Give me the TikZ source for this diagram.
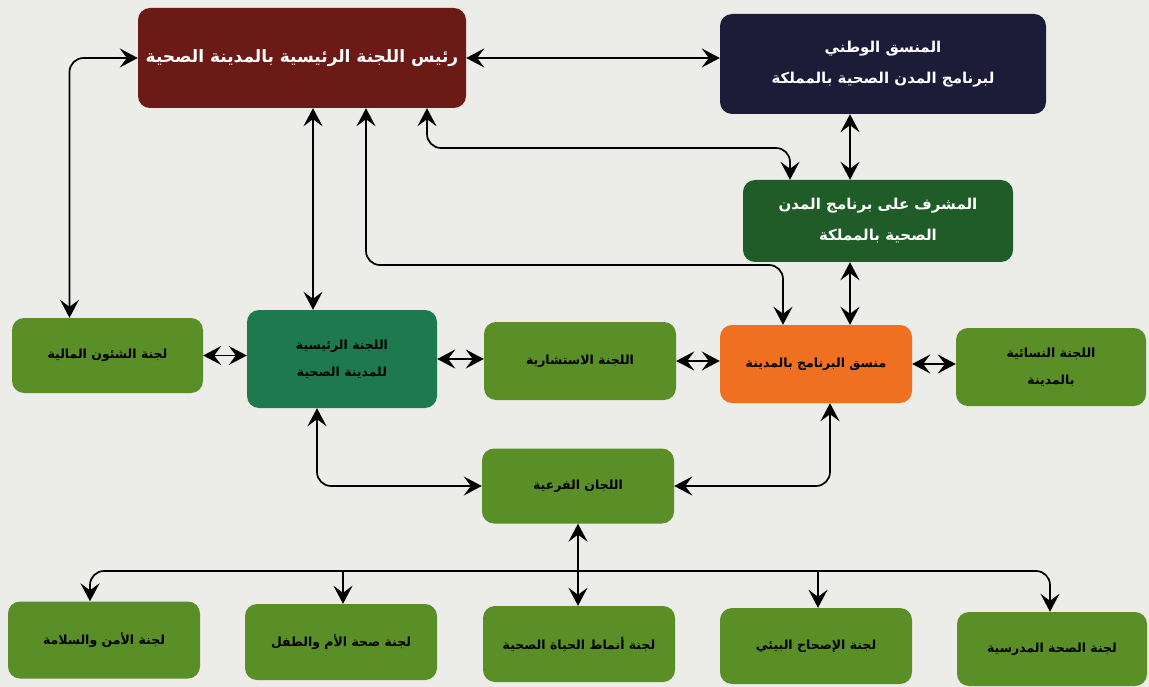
\documentclass[tikz,border=0pt]{standalone}
\usepackage{fontspec}
\newfontfamily\arabicfont[Script=Arabic]{DejaVu Sans}
\TeXXeTstate=1
\usetikzlibrary{arrows.meta,calc}
\definecolor{bgc}{HTML}{ECECE9}
\definecolor{chairc}{HTML}{6C1A15}
\definecolor{navyc}{HTML}{1C1C38}
\definecolor{supc}{HTML}{1F5C27}
\definecolor{grc}{HTML}{5A8E27}
\definecolor{tealc}{HTML}{1E7A4E}
\definecolor{orc}{HTML}{F07021}
\tikzset{
  box/.style={rounded corners=12pt, draw=none, align=center, inner sep=2pt,
    font=\arabicfont\bfseries},
  topbox/.style={box, text=white, font=\arabicfont\bfseries\fontsize{15}{31}\selectfont},
  grbox/.style={box, fill=grc, text=black, font=\arabicfont\bfseries\fontsize{12.5}{27}\selectfont,
    minimum width=192pt, minimum height=77pt},
  link/.style={line width=1.7pt, >={Stealth[length=18pt,width=19pt,inset=7pt]}, <->},
  link1/.style={line width=1.7pt, >={Stealth[length=18pt,width=19pt,inset=7pt]}, ->},
  roundpath/.style={rounded corners=14pt}
}
\begin{document}
\begin{tikzpicture}[x=1pt,y=-1pt]
\fill[bgc] (0,0) rectangle (1149,687);
\useasboundingbox (0,0) rectangle (1149,687);

\node[topbox, fill=chairc, minimum width=328pt, minimum height=100pt,
  font=\arabicfont\bfseries\fontsize{17}{24}\selectfont] (chair) at (302,58)
  {\beginR رئيس اللجنة الرئيسية بالمدينة الصحية\endR};
\node[topbox, fill=navyc, minimum width=326pt, minimum height=100pt] (national) at (883,64)
  {\beginR المنسق الوطني\endR\\\beginR لبرنامج المدن الصحية بالمملكة\endR};
\node[topbox, fill=supc, minimum width=270pt, minimum height=82pt] (sup) at (878,221)
  {\beginR المشرف على برنامج المدن\endR\\\beginR الصحية بالمملكة\endR};

\node[grbox, minimum width=191pt, minimum height=75pt] (fin) at (107.5,355.5)
  {\beginR لجنة الشئون المالية\endR};
\node[grbox, fill=tealc, minimum width=190pt, minimum height=98pt] (main) at (342,359)
  {\beginR اللجنة الرئيسية\endR\\\beginR للمدينة الصحية\endR};
\node[grbox, minimum height=78pt] (adv) at (580,361)
  {\beginR اللجنة الاستشارية\endR};
\node[grbox, fill=orc, minimum height=78pt] (coord) at (816,364)
  {\beginR منسق البرنامج بالمدينة\endR};
\node[grbox, minimum width=190pt, minimum height=78pt] (women) at (1051,367)
  {\beginR اللجنة النسائية\endR\\\beginR بالمدينة\endR};
\node[grbox, minimum height=75pt] (sub) at (578,486)
  {\beginR اللجان الفرعية\endR};

\node[grbox] (sec) at (104,640) {\beginR لجنة الأمن والسلامة\endR};
\node[grbox, minimum height=76pt] (mother) at (341,642) {\beginR لجنة صحة الأم والطفل\endR};
\node[grbox, minimum height=76pt] (life) at (579,644) {\beginR لجنة أنماط الحياة الصحية\endR};
\node[grbox, minimum height=76pt] (env) at (816,646) {\beginR لجنة الإصحاح البيئي\endR};
\node[grbox, minimum width=190pt, minimum height=74pt] (school) at (1052,649) {\beginR لجنة الصحة المدرسية\endR};

\coordinate (bendA) at (560,265);
\coordinate (bendB) at (600,148);
\coordinate (bus) at (570,571);

% top connectors
\draw[link] (chair.east) -- (chair.east -| national.west);
\draw[link, roundpath] (chair.west) -| ([xshift=-38pt]fin.north);
\draw[link] ([xshift=11pt]chair.south) -- ([xshift=11pt]chair.south |- main.north);
\draw[link, roundpath] ([xshift=64pt]chair.south) |- (bendA) -| ([xshift=-33pt]coord.north);
\draw[link, roundpath] ([xshift=125pt]chair.south) |- (bendB) -| ([xshift=-88pt]sup.north);
\draw[link] ([xshift=-33pt]national.south) -- ([xshift=-33pt]national.south |- sup.north);
\draw[link] ([xshift=-28pt]sup.south) -- ([xshift=-28pt]sup.south |- coord.north);

% middle row
\draw[link] (fin.east) -- (fin.east -| main.west);
\draw[link] (main.east) -- (main.east -| adv.west);
\draw[link] (adv.east) -- (adv.east -| coord.west);
\draw[link] (coord.east) -- (coord.east -| women.west);

% sub committees
\draw[link, roundpath] ([xshift=-25pt]main.south) |- (sub.west);
\draw[link, roundpath] ([xshift=14pt]coord.south) |- (sub.east);
\draw[link] (sub.south) -- (sub.south |- life.north);

% bus
\draw[link, roundpath] ([xshift=-14pt]sec.north) |- (bus) -| ([xshift=-2pt]school.north);
\draw[link1] ([xshift=2pt]mother.north |- bus) -- ([xshift=2pt]mother.north);
\draw[link1] ([xshift=2pt]env.north |- bus) -- ([xshift=2pt]env.north);
\end{tikzpicture}
\end{document}
